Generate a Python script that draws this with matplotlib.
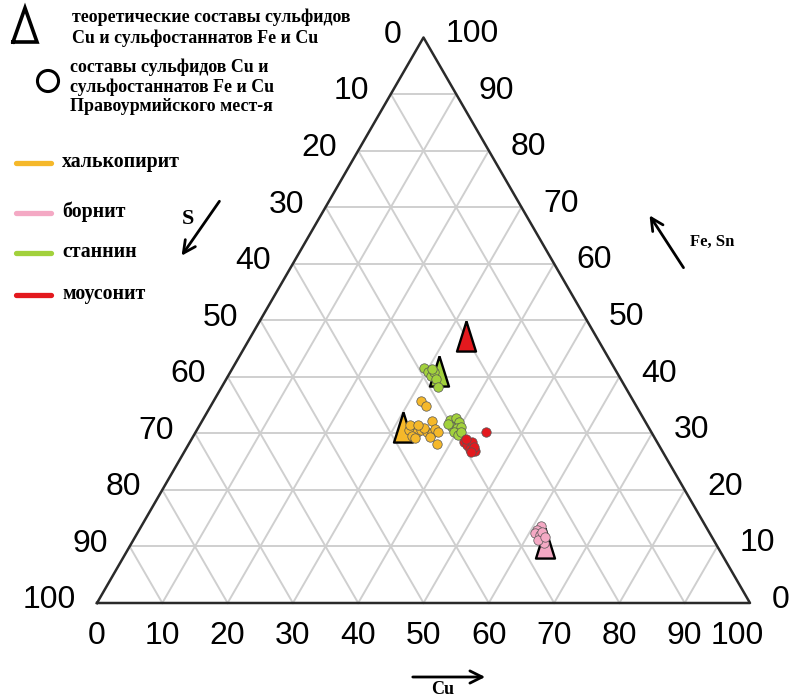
import numpy as np
import matplotlib
matplotlib.use('Agg')
import matplotlib.pyplot as plt

# ternary data: Cu and Fe+Sn (wt.%), S = 100 - Cu - FeSn
chp_cu = [31.7, 33.0, 35.2, 32.8, 32.5, 33.9, 33.5, 34.1, 34.3, 35.4, 36.3, 36.4, 37.1, 36.3, 38.0, 34.5, 32.2, 33.4]
chp_fesn = [35.7, 34.8, 32.2, 31.1, 30.6, 30.2, 29.5, 29.2, 30.6, 30.2, 30.1, 30.8, 30.2, 29.4, 28.1, 31.0, 31.5, 31.5]

stn_cu = [29.3, 30.3, 31.1, 31.2, 32.1, 33.1, 30.6, 37.9, 38.6, 39.4, 38.8, 39.6, 40.2, 39.5, 40.5, 40.7, 37.9]
stn_fesn = [41.6, 40.9, 40.1, 40.9, 39.6, 38.2, 41.4, 32.4, 32.8, 32.0, 31.2, 31.0, 31.1, 30.3, 29.7, 30.2, 31.7]

mws_cu = [44.4, 41.9, 42.7, 43.2, 43.4, 44.5, 43.9, 42.0, 43.9]
mws_fesn = [30.3, 28.5, 28.0, 28.4, 27.3, 26.8, 27.6, 29.0, 26.7]

brn_cu = [61.2, 60.9, 60.9, 61.8, 62.5, 63.1, 62.0, 61.8, 62.7]
brn_fesn = [13.6, 12.9, 12.3, 12.0, 11.4, 10.6, 11.1, 12.6, 11.7]

# theoretical compositions (triangles)
theo_names = ['халькопирит', 'станнин', 'моусонит', 'борнит']
theo_cu = [31.3, 31.9, 32.8, 63.3]
theo_fesn = [31.2, 41.0, 47.3, 10.6]

legend_names = ['халькопирит', 'борнит', 'станнин', 'моусонит']
colors = {'халькопирит': '#f5b82a', 'борнит': '#f4a9c4', 'станнин': '#a2d13c', 'моусонит': '#e3191e'}

ticks = [0, 10, 20, 30, 40, 50, 60, 70, 80, 90, 100]

h = np.sqrt(3) / 2


def tern(cu, fesn):
    cu = np.asarray(cu, float)
    fesn = np.asarray(fesn, float)
    return cu + fesn / 2, fesn * h


# pixel -> data helper for the layout of texts (1 unit = 6.53 px)
def px(x, y):
    return (x - 97) / 6.53, (603 - y) / 6.53


fig = plt.figure(figsize=(7.99, 7.00), dpi=100)
ax = fig.add_axes([0, 0, 1, 1])
ax.set_xlim(-97 / 6.53, (799 - 97) / 6.53)
ax.set_ylim(-(700 - 603) / 6.53, 603 / 6.53)
ax.axis('off')

# grid
gc = '#cfcfcf'
for k in range(10, 100, 10):
    # constant Fe+Sn
    x, y = tern([0, 100 - k], [k, k])
    ax.plot(x, y, color=gc, lw=1.4, zorder=1)
    # constant Cu
    x, y = tern([k, k], [0, 100 - k])
    ax.plot(x, y, color=gc, lw=1.4, zorder=1)
    # constant S
    x, y = tern([100 - k, 0], [0, 100 - k])
    ax.plot(x, y, color=gc, lw=1.4, zorder=1)

x, y = tern([0, 100, 0, 0], [0, 0, 100, 0])
ax.plot(x, y, color='#2a2a2a', lw=1.8, zorder=2)

# tick labels
tf = dict(family='Liberation Sans', fontsize=23, color='black')
for t in ticks:
    # bottom, Cu
    bx, by = tern([t], [0])
    xx = bx[0] - (2.0 if t == 100 else 0)
    ax.text(xx, by[0] - 5.1, str(t), ha='center', va='center', **tf)
    # left, S
    lx, ly = tern([0], [100 - t])
    ax.text(lx[0] - 3.3, ly[0] + 0.4, str(t), ha='right', va='center', **tf)
    # right, Fe+Sn
    rx, ry = tern([100 - t], [t])
    ax.text(rx[0] + 3.4, ry[0] + 0.5, str(t), ha='left', va='center', **tf)

# theoretical triangles
tri = [(0, 1), (-0.63, -1), (0.63, -1), (0, 1)]
for name, c, f in zip(theo_names, theo_cu, theo_fesn):
    x, y = tern([c], [f])
    ax.scatter(x, y, marker=tri, s=470, color=colors[name], edgecolors='black', linewidths=1.7, zorder=3)

# measured compositions
groups = [('халькопирит', chp_cu, chp_fesn), ('станнин', stn_cu, stn_fesn),
          ('моусонит', mws_cu, mws_fesn), ('борнит', brn_cu, brn_fesn)]
for name, c, f in groups:
    x, y = tern(c, f)
    ax.scatter(x, y, s=46, color=colors[name], edgecolors='#555555', linewidths=0.5, zorder=4)

# legend (drawn by hand)
sf = dict(family='Liberation Serif', fontweight='bold', color='black')
lx0, ly0 = px(13, 42)
lx1, ly1 = px(37, 8)
ax.plot([lx0, (lx0 + lx1) / 2, lx1, lx0], [ly0, ly1, ly0, ly0], color='black', lw=2.6, solid_joinstyle='miter')
ax.text(*px(72, 17), 'теоретические составы сульфидов', ha='left', va='center', fontsize=12.9, **sf)
ax.text(*px(72, 38), 'Cu и сульфостаннатов Fe и Cu', ha='left', va='center', fontsize=12.9, **sf)
ax.scatter(*px(48, 81), s=230, facecolors='none', edgecolors='black', linewidths=2.2)
ax.text(*px(70, 67), 'составы сульфидов Cu и', ha='left', va='center', fontsize=12.9, **sf)
ax.text(*px(70, 87), 'сульфостаннатов Fe и Cu', ha='left', va='center', fontsize=12.9, **sf)
ax.text(*px(70, 107), 'Правоурмийского мест-я', ha='left', va='center', fontsize=12.9, **sf)

leg_y = [163, 213, 253, 295]
for name, yy in zip(legend_names, leg_y):
    a = px(16, yy)
    b = px(51, yy)
    ax.plot([a[0], b[0]], [a[1], b[1]], color=colors[name], lw=3.8, solid_capstyle='round')
    ax.text(*px(62, yy - 1), name, ha='left', va='center', fontsize=14.3, **sf)

# axis arrows
ap = dict(arrowstyle='->', color='black', lw=2, mutation_scale=22)
ax.annotate('', xy=px(180, 258), xytext=px(221, 199), arrowprops=ap)
ax.text(*px(188, 219), 'S', ha='center', va='center', fontsize=16, **sf)
ax.annotate('', xy=px(648, 213), xytext=px(685, 270), arrowprops=ap)
ax.text(*px(712, 242), 'Fe, Sn', ha='center', va='center', fontsize=12, **sf)
ax.annotate('', xy=px(488, 677), xytext=px(410, 677), arrowprops=ap)
ax.text(*px(443, 690), 'Cu', ha='center', va='center', fontsize=13, **sf)

fig.savefig('out.png', dpi=100)
